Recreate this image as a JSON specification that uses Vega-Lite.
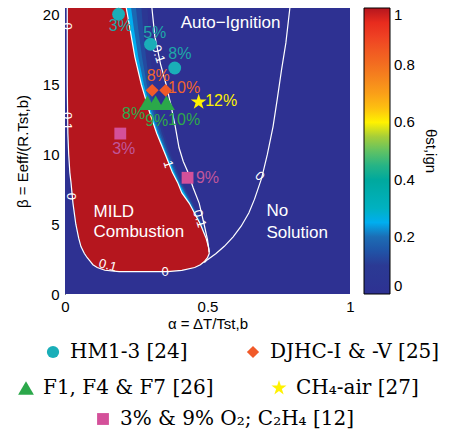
{
  "$schema": "https://vega.github.io/schema/vega-lite/v6.json",
  "width": 285,
  "height": 286,
  "padding": {"left": 15, "top": 5, "right": 5, "bottom": 5},
  "config": {
    "view": {"stroke": null},
    "font": "Liberation Sans",
    "axis": {"labelFont": "Liberation Sans", "labelFontSize": 15, "labelColor": "black", "titleFont": "Liberation Sans", "titleFontSize": 15, "titleFontWeight": "normal", "titleColor": "black", "grid": false},
    "legend": {"padding": 0}
  },
  "datasets": {
    "bg": [{"a": 0, "a2": 1, "b": 0, "b2": 20.5, "theta": 0}],
    "field": [
      {"band": "b1", "theta": 0.07, "b": 2.6, "a": 0.2, "a2": 0.5},
      {"band": "b1", "theta": 0.07, "b": 3.4, "a": 0.2, "a2": 0.507},
      {"band": "b1", "theta": 0.07, "b": 5, "a": 0.2, "a2": 0.485},
      {"band": "b1", "theta": 0.07, "b": 6.5, "a": 0.2, "a2": 0.451},
      {"band": "b1", "theta": 0.07, "b": 8, "a": 0.2, "a2": 0.413},
      {"band": "b1", "theta": 0.07, "b": 10, "a": 0.2, "a2": 0.374},
      {"band": "b1", "theta": 0.07, "b": 11.5, "a": 0.2, "a2": 0.348},
      {"band": "b1", "theta": 0.07, "b": 13, "a": 0.2, "a2": 0.329},
      {"band": "b1", "theta": 0.07, "b": 15, "a": 0.2, "a2": 0.31},
      {"band": "b1", "theta": 0.07, "b": 17, "a": 0.2, "a2": 0.3},
      {"band": "b1", "theta": 0.07, "b": 19, "a": 0.2, "a2": 0.293},
      {"band": "b1", "theta": 0.07, "b": 20.5, "a": 0.2, "a2": 0.29},
      {"band": "b2", "theta": 0.13, "b": 2.6, "a": 0.2, "a2": 0.5},
      {"band": "b2", "theta": 0.13, "b": 3.4, "a": 0.2, "a2": 0.506},
      {"band": "b2", "theta": 0.13, "b": 5, "a": 0.2, "a2": 0.482},
      {"band": "b2", "theta": 0.13, "b": 6.5, "a": 0.2, "a2": 0.447},
      {"band": "b2", "theta": 0.13, "b": 8, "a": 0.2, "a2": 0.408},
      {"band": "b2", "theta": 0.13, "b": 10, "a": 0.2, "a2": 0.367},
      {"band": "b2", "theta": 0.13, "b": 11.5, "a": 0.2, "a2": 0.34},
      {"band": "b2", "theta": 0.13, "b": 13, "a": 0.2, "a2": 0.319},
      {"band": "b2", "theta": 0.13, "b": 15, "a": 0.2, "a2": 0.297},
      {"band": "b2", "theta": 0.13, "b": 17, "a": 0.2, "a2": 0.284},
      {"band": "b2", "theta": 0.13, "b": 19, "a": 0.2, "a2": 0.274},
      {"band": "b2", "theta": 0.13, "b": 20.5, "a": 0.2, "a2": 0.268},
      {"band": "b3", "theta": 0.19, "b": 2.6, "a": 0.2, "a2": 0.5},
      {"band": "b3", "theta": 0.19, "b": 3.4, "a": 0.2, "a2": 0.505},
      {"band": "b3", "theta": 0.19, "b": 5, "a": 0.2, "a2": 0.48},
      {"band": "b3", "theta": 0.19, "b": 6.5, "a": 0.2, "a2": 0.443},
      {"band": "b3", "theta": 0.19, "b": 8, "a": 0.2, "a2": 0.403},
      {"band": "b3", "theta": 0.19, "b": 10, "a": 0.2, "a2": 0.362},
      {"band": "b3", "theta": 0.19, "b": 11.5, "a": 0.2, "a2": 0.334},
      {"band": "b3", "theta": 0.19, "b": 13, "a": 0.2, "a2": 0.311},
      {"band": "b3", "theta": 0.19, "b": 15, "a": 0.2, "a2": 0.287},
      {"band": "b3", "theta": 0.19, "b": 17, "a": 0.2, "a2": 0.27},
      {"band": "b3", "theta": 0.19, "b": 19, "a": 0.2, "a2": 0.257},
      {"band": "b3", "theta": 0.19, "b": 20.5, "a": 0.2, "a2": 0.249},
      {"band": "b4", "theta": 0.25, "b": 2.6, "a": 0.2, "a2": 0.5},
      {"band": "b4", "theta": 0.25, "b": 3.4, "a": 0.2, "a2": 0.504},
      {"band": "b4", "theta": 0.25, "b": 5, "a": 0.2, "a2": 0.477},
      {"band": "b4", "theta": 0.25, "b": 6.5, "a": 0.2, "a2": 0.439},
      {"band": "b4", "theta": 0.25, "b": 8, "a": 0.2, "a2": 0.399},
      {"band": "b4", "theta": 0.25, "b": 10, "a": 0.2, "a2": 0.357},
      {"band": "b4", "theta": 0.25, "b": 11.5, "a": 0.2, "a2": 0.328},
      {"band": "b4", "theta": 0.25, "b": 13, "a": 0.2, "a2": 0.304},
      {"band": "b4", "theta": 0.25, "b": 15, "a": 0.2, "a2": 0.277},
      {"band": "b4", "theta": 0.25, "b": 17, "a": 0.2, "a2": 0.257},
      {"band": "b4", "theta": 0.25, "b": 19, "a": 0.2, "a2": 0.242},
      {"band": "b4", "theta": 0.25, "b": 20.5, "a": 0.2, "a2": 0.232},
      {"band": "b5", "theta": 1, "b": 1.62, "a": 0.19, "a2": 0.36},
      {"band": "b5", "theta": 1, "b": 1.7, "a": 0.14, "a2": 0.41},
      {"band": "b5", "theta": 1, "b": 1.9, "a": 0.115, "a2": 0.455},
      {"band": "b5", "theta": 1, "b": 2.1, "a": 0.1, "a2": 0.475},
      {"band": "b5", "theta": 1, "b": 2.35, "a": 0.09, "a2": 0.49},
      {"band": "b5", "theta": 1, "b": 2.6, "a": 0.08, "a2": 0.5},
      {"band": "b5", "theta": 1, "b": 2.9, "a": 0.07, "a2": 0.506},
      {"band": "b5", "theta": 1, "b": 3.2, "a": 0.063, "a2": 0.505},
      {"band": "b5", "theta": 1, "b": 3.4, "a": 0.058, "a2": 0.503},
      {"band": "b5", "theta": 1, "b": 4, "a": 0.05, "a2": 0.495},
      {"band": "b5", "theta": 1, "b": 5, "a": 0.04, "a2": 0.475},
      {"band": "b5", "theta": 1, "b": 6.5, "a": 0.03, "a2": 0.436},
      {"band": "b5", "theta": 1, "b": 7.25, "a": 0.026, "a2": 0.41},
      {"band": "b5", "theta": 1, "b": 8, "a": 0.022, "a2": 0.395},
      {"band": "b5", "theta": 1, "b": 8.7, "a": 0.018, "a2": 0.377},
      {"band": "b5", "theta": 1, "b": 10, "a": 0.014, "a2": 0.352},
      {"band": "b5", "theta": 1, "b": 11.5, "a": 0.012, "a2": 0.322},
      {"band": "b5", "theta": 1, "b": 13, "a": 0.011, "a2": 0.297},
      {"band": "b5", "theta": 1, "b": 15, "a": 0.01, "a2": 0.268},
      {"band": "b5", "theta": 1, "b": 17, "a": 0.01, "a2": 0.245},
      {"band": "b5", "theta": 1, "b": 19, "a": 0.01, "a2": 0.228},
      {"band": "b5", "theta": 1, "b": 20.5, "a": 0.01, "a2": 0.215}
    ],
    "contours": [
      {"line": "edge", "ord": 1, "a": 0.008, "b": 20.5},
      {"line": "edge", "ord": 2, "a": 0.008, "b": 15},
      {"line": "edge", "ord": 3, "a": 0.01, "b": 11.5},
      {"line": "edge", "ord": 4, "a": 0.013, "b": 10},
      {"line": "edge", "ord": 5, "a": 0.017, "b": 8.7},
      {"line": "edge", "ord": 6, "a": 0.021, "b": 8},
      {"line": "edge", "ord": 7, "a": 0.028, "b": 6.5},
      {"line": "edge", "ord": 8, "a": 0.038, "b": 5},
      {"line": "edge", "ord": 9, "a": 0.048, "b": 4},
      {"line": "edge", "ord": 10, "a": 0.056, "b": 3.4},
      {"line": "edge", "ord": 11, "a": 0.068, "b": 2.9},
      {"line": "edge", "ord": 12, "a": 0.078, "b": 2.6},
      {"line": "edge", "ord": 13, "a": 0.088, "b": 2.35},
      {"line": "edge", "ord": 14, "a": 0.098, "b": 2.1},
      {"line": "edge", "ord": 15, "a": 0.113, "b": 1.9},
      {"line": "edge", "ord": 16, "a": 0.14, "b": 1.7},
      {"line": "edge", "ord": 17, "a": 0.19, "b": 1.6},
      {"line": "edge", "ord": 18, "a": 0.36, "b": 1.6},
      {"line": "edge", "ord": 19, "a": 0.41, "b": 1.7},
      {"line": "edge", "ord": 20, "a": 0.455, "b": 1.9},
      {"line": "edge", "ord": 21, "a": 0.475, "b": 2.1},
      {"line": "edge", "ord": 22, "a": 0.49, "b": 2.35},
      {"line": "edge", "ord": 23, "a": 0.5, "b": 2.6},
      {"line": "edge", "ord": 24, "a": 0.506, "b": 2.9},
      {"line": "edge", "ord": 25, "a": 0.505, "b": 3.2},
      {"line": "edge", "ord": 26, "a": 0.503, "b": 3.4},
      {"line": "edge", "ord": 27, "a": 0.495, "b": 4},
      {"line": "edge", "ord": 28, "a": 0.475, "b": 5},
      {"line": "edge", "ord": 29, "a": 0.436, "b": 6.5},
      {"line": "edge", "ord": 30, "a": 0.41, "b": 7.25},
      {"line": "edge", "ord": 31, "a": 0.395, "b": 8},
      {"line": "edge", "ord": 32, "a": 0.377, "b": 8.7},
      {"line": "edge", "ord": 33, "a": 0.352, "b": 10},
      {"line": "edge", "ord": 34, "a": 0.322, "b": 11.5},
      {"line": "edge", "ord": 35, "a": 0.297, "b": 13},
      {"line": "edge", "ord": 36, "a": 0.268, "b": 15},
      {"line": "edge", "ord": 37, "a": 0.245, "b": 17},
      {"line": "edge", "ord": 38, "a": 0.228, "b": 19},
      {"line": "edge", "ord": 39, "a": 0.215, "b": 20.5},
      {"line": "c01", "ord": 1, "a": 0.305, "b": 20.5},
      {"line": "c01", "ord": 2, "a": 0.315, "b": 18.5},
      {"line": "c01", "ord": 3, "a": 0.335, "b": 16.5},
      {"line": "c01", "ord": 4, "a": 0.355, "b": 15},
      {"line": "c01", "ord": 5, "a": 0.372, "b": 13.5},
      {"line": "c01", "ord": 6, "a": 0.387, "b": 12},
      {"line": "c01", "ord": 7, "a": 0.4, "b": 10.5},
      {"line": "c01", "ord": 8, "a": 0.415, "b": 9.5},
      {"line": "c01", "ord": 9, "a": 0.43, "b": 8.8},
      {"line": "c01", "ord": 10, "a": 0.45, "b": 7.6},
      {"line": "c01", "ord": 11, "a": 0.471, "b": 6.5},
      {"line": "c01", "ord": 12, "a": 0.488, "b": 5},
      {"line": "c01", "ord": 13, "a": 0.5, "b": 3.9},
      {"line": "c01", "ord": 14, "a": 0.506, "b": 3.0},
      {"line": "c0", "ord": 1, "a": 0.789, "b": 20.5},
      {"line": "c0", "ord": 2, "a": 0.775, "b": 18},
      {"line": "c0", "ord": 3, "a": 0.76, "b": 16.1},
      {"line": "c0", "ord": 4, "a": 0.745, "b": 14},
      {"line": "c0", "ord": 5, "a": 0.73, "b": 12},
      {"line": "c0", "ord": 6, "a": 0.71, "b": 10},
      {"line": "c0", "ord": 7, "a": 0.69, "b": 8.3},
      {"line": "c0", "ord": 8, "a": 0.665, "b": 6.8},
      {"line": "c0", "ord": 9, "a": 0.645, "b": 5.8},
      {"line": "c0", "ord": 10, "a": 0.618, "b": 4.86},
      {"line": "c0", "ord": 11, "a": 0.59, "b": 4.1},
      {"line": "c0", "ord": 12, "a": 0.559, "b": 3.42},
      {"line": "c0", "ord": 13, "a": 0.53, "b": 2.9},
      {"line": "c0", "ord": 14, "a": 0.5, "b": 2.46},
      {"line": "c0", "ord": 15, "a": 0.489, "b": 2.25}
    ],
    "lab90": [
      {"t": "0", "a": 0.007, "b": 19.2},
      {"t": "0.1", "a": 0.007, "b": 12.4},
      {"t": "0", "a": 0.02, "b": 7.0}
    ],
    "lab0": [{"t": "0", "a": 0.351, "b": 1.58}],
    "lab15": [{"t": "0.1", "a": 0.15, "b": 2.05}],
    "lab73": [
      {"t": "1", "a": 0.362, "b": 9.3},
      {"t": "0.1", "a": 0.327, "b": 17.2},
      {"t": "0.1", "a": 0.472, "b": 5.4}
    ],
    "lab45": [{"t": "0", "a": 0.683, "b": 8.45}],
    "regions": [
      {"t": "Auto−Ignition", "a": 0.406, "b": 19.45},
      {"t": "MILD", "a": 0.1, "b": 5.85},
      {"t": "Combustion", "a": 0.1, "b": 4.41},
      {"t": "No", "a": 0.707, "b": 5.96},
      {"t": "Solution", "a": 0.707, "b": 4.38}
    ],
    "mA": [
      {"g": "HM1-3 [24]", "a": 0.188, "b": 20.05},
      {"g": "HM1-3 [24]", "a": 0.3, "b": 17.9},
      {"g": "HM1-3 [24]", "a": 0.385, "b": 16.2},
      {"g": "DJHC-I & -V [25]", "a": 0.306, "b": 14.6},
      {"g": "DJHC-I & -V [25]", "a": 0.353, "b": 14.6}
    ],
    "mB": [
      {"g": "F1, F4 & F7 [26]", "a": 0.289, "b": 13.7},
      {"g": "F1, F4 & F7 [26]", "a": 0.318, "b": 13.7},
      {"g": "F1, F4 & F7 [26]", "a": 0.356, "b": 13.7},
      {"g": "CH₄-air [27]", "a": 0.469, "b": 13.76}
    ],
    "mC": [
      {"g": "3% & 9% O₂; C₂H₄ [12]", "a": 0.194, "b": 11.5},
      {"g": "3% & 9% O₂; C₂H₄ [12]", "a": 0.43, "b": 8.33}
    ],
    "mlabels": [
      {"g": "c", "t": "3%", "a": 0.194, "b": 19.2},
      {"g": "c", "t": "5%", "a": 0.315, "b": 18.7},
      {"g": "c", "t": "8%", "a": 0.403, "b": 17.2},
      {"g": "o", "t": "8%", "a": 0.327, "b": 15.6},
      {"g": "o", "t": "10%", "a": 0.418, "b": 14.8},
      {"g": "gr", "t": "8%", "a": 0.241, "b": 12.9},
      {"g": "gr", "t": "9%", "a": 0.322, "b": 12.4},
      {"g": "gr", "t": "10%", "a": 0.418, "b": 12.5},
      {"g": "y", "t": "12%", "a": 0.548, "b": 13.8},
      {"g": "p", "t": "3%", "a": 0.206, "b": 10.4},
      {"g": "p", "t": "9%", "a": 0.5, "b": 8.33}
    ]
  },
  "encoding": {
    "x": {"field": "a", "type": "quantitative", "scale": {"domain": [0, 1], "nice": false, "zero": false},
      "axis": {"title": "α = ΔT/Tst,b", "values": [0, 0.5, 1], "format": "~g", "domain": false, "ticks": false, "tickSize": 0, "labelPadding": 5, "titlePadding": 2, "labelFlush": false}},
    "y": {"field": "b", "type": "quantitative", "scale": {"domain": [0, 20.5], "nice": false, "zero": false},
      "axis": {"title": "β = Eeff/(R.Tst,b)", "values": [0, 5, 10, 15, 20], "format": "~g", "ticks": false, "tickSize": 0, "domainColor": "black", "labelPadding": 6, "titlePadding": 12, "labelFlush": false}}
  },
  "layer": [
    {
      "data": {"name": "bg"},
      "mark": {"type": "rect"},
      "encoding": {
        "x2": {"field": "a2"},
        "y2": {"field": "b2"},
        "color": {"field": "theta", "type": "quantitative",
          "scale": {"type": "linear", "domain": [0, 0.1, 0.2, 0.25, 0.3, 0.4, 0.47, 0.55, 0.6, 0.65, 0.72, 0.82, 0.92, 0.97, 1],
            "range": ["#2e3192", "#2b3a94", "#1c6db5", "#00aeef", "#00b1c1", "#00a99d", "#3cb878", "#a6ce39", "#fff200", "#fdc010", "#f7941d", "#f26522", "#ee3524", "#e2231a", "#b5161e"]},
          "legend": {"orient": "none", "legendX": 299, "legendY": 0, "direction": "vertical", "gradientLength": 286, "gradientThickness": 26, "values": [0, 0.2, 0.4, 0.6, 0.8, 1], "format": "~g", "title": "θst,ign", "titleOrient": "right", "titleAngle": 270, "titleAnchor": "middle", "titleFontSize": 15, "titleFontWeight": "normal", "titleFont": "Liberation Sans", "titleColor": "black", "labelFontSize": 15, "labelFont": "Liberation Sans", "labelColor": "black", "gradientStrokeColor": "black", "gradientStrokeWidth": 1, "labelOffset": 4, "titlePadding": 8}}
      }
    },
    {
      "data": {"name": "field"},
      "mark": {"type": "area", "orient": "horizontal"},
      "encoding": {
        "x2": {"field": "a2"},
        "detail": {"field": "band", "type": "nominal"},
        "color": {"field": "theta", "type": "quantitative",
          "scale": {"type": "linear", "domain": [0, 0.1, 0.2, 0.25, 0.3, 0.4, 0.47, 0.55, 0.6, 0.65, 0.72, 0.82, 0.92, 0.97, 1],
            "range": ["#2e3192", "#2b3a94", "#1c6db5", "#00aeef", "#00b1c1", "#00a99d", "#3cb878", "#a6ce39", "#fff200", "#fdc010", "#f7941d", "#f26522", "#ee3524", "#e2231a", "#b5161e"]},
          "legend": {"orient": "none", "legendX": 299, "legendY": 0, "direction": "vertical", "gradientLength": 286, "gradientThickness": 26, "values": [0, 0.2, 0.4, 0.6, 0.8, 1], "format": "~g", "title": "θst,ign", "titleOrient": "right", "titleAngle": 270, "titleAnchor": "middle", "titleFontSize": 15, "titleFontWeight": "normal", "titleFont": "Liberation Sans", "titleColor": "black", "labelFontSize": 15, "labelFont": "Liberation Sans", "labelColor": "black", "gradientStrokeColor": "black", "gradientStrokeWidth": 1, "labelOffset": 4, "titlePadding": 8}}
      }
    },
    {
      "data": {"name": "contours"},
      "mark": {"type": "line", "color": "white", "strokeWidth": 1.2},
      "encoding": {
        "detail": {"field": "line", "type": "nominal"},
        "order": {"field": "ord", "type": "quantitative"}
      }
    },
    {
      "data": {"name": "lab90"},
      "mark": {"type": "text", "color": "white", "fontSize": 13, "angle": 90, "align": "center", "baseline": "middle"},
      "encoding": {"text": {"field": "t", "type": "nominal"}}
    },
    {
      "data": {"name": "lab0"},
      "mark": {"type": "text", "color": "white", "fontSize": 13, "angle": 0, "align": "center", "baseline": "middle"},
      "encoding": {"text": {"field": "t", "type": "nominal"}}
    },
    {
      "data": {"name": "lab15"},
      "mark": {"type": "text", "color": "white", "fontSize": 13, "angle": 15, "align": "center", "baseline": "middle"},
      "encoding": {"text": {"field": "t", "type": "nominal"}}
    },
    {
      "data": {"name": "lab73"},
      "mark": {"type": "text", "color": "white", "fontSize": 13, "angle": 73, "align": "center", "baseline": "middle"},
      "encoding": {"text": {"field": "t", "type": "nominal"}}
    },
    {
      "data": {"name": "lab45"},
      "mark": {"type": "text", "color": "white", "fontSize": 13, "angle": 45, "align": "center", "baseline": "middle"},
      "encoding": {"text": {"field": "t", "type": "nominal"}}
    },
    {
      "data": {"name": "regions"},
      "mark": {"type": "text", "color": "white", "fontSize": 17, "align": "left", "baseline": "middle"},
      "encoding": {"text": {"field": "t", "type": "nominal"}}
    },
    {
      "data": {"name": "mB"},
      "mark": {"type": "point", "filled": true, "opacity": 1, "size": 280, "strokeWidth": 0},
      "encoding": {
        "fill": {"field": "g", "type": "nominal", "scale": {"domain": ["F1, F4 & F7 [26]", "CH₄-air [27]"], "range": ["#2ba84a", "#fff200"]},
          "legend": {"orient": "none", "legendX": -49, "legendY": 370, "direction": "horizontal", "columns": 2, "title": null, "labelFont": "DejaVu Serif", "labelFontSize": 20, "labelColor": "black", "symbolSize": 250, "symbolStrokeWidth": 0, "symbolOpacity": 1, "columnPadding": 55, "labelOffset": 7, "labelLimit": 400}},
        "shape": {"field": "g", "type": "nominal", "scale": {"domain": ["F1, F4 & F7 [26]", "CH₄-air [27]"], "range": ["triangle-up", "M0,-1L0.2245,-0.309L0.951,-0.309L0.3633,0.118L0.5878,0.809L0,0.382L-0.5878,0.809L-0.3633,0.118L-0.951,-0.309L-0.2245,-0.309Z"]},
          "legend": {"orient": "none", "legendX": -49, "legendY": 370, "direction": "horizontal", "columns": 2, "title": null, "labelFont": "DejaVu Serif", "labelFontSize": 20, "labelColor": "black", "symbolSize": 250, "symbolStrokeWidth": 0, "symbolOpacity": 1, "columnPadding": 55, "labelOffset": 7, "labelLimit": 400}}
      }
    },
    {
      "data": {"name": "mC"},
      "mark": {"type": "point", "filled": true, "opacity": 1, "size": 140, "strokeWidth": 0},
      "encoding": {
        "fill": {"field": "g", "type": "nominal", "scale": {"domain": ["3% & 9% O₂; C₂H₄ [12]"], "range": ["#d4509a"]},
          "legend": {"orient": "none", "legendX": 28, "legendY": 401, "direction": "horizontal", "columns": 2, "title": null, "labelFont": "DejaVu Serif", "labelFontSize": 20, "labelColor": "black", "symbolSize": 140, "symbolStrokeWidth": 0, "symbolOpacity": 1, "columnPadding": 55, "labelOffset": 7, "labelLimit": 400}},
        "shape": {"field": "g", "type": "nominal", "scale": {"domain": ["3% & 9% O₂; C₂H₄ [12]"], "range": ["square"]},
          "legend": {"orient": "none", "legendX": 28, "legendY": 401, "direction": "horizontal", "columns": 2, "title": null, "labelFont": "DejaVu Serif", "labelFontSize": 20, "labelColor": "black", "symbolSize": 140, "symbolStrokeWidth": 0, "symbolOpacity": 1, "columnPadding": 55, "labelOffset": 7, "labelLimit": 400}}
      }
    },
    {
      "data": {"name": "mA"},
      "mark": {"type": "point", "filled": true, "opacity": 1, "size": 165, "strokeWidth": 0},
      "encoding": {
        "fill": {"field": "g", "type": "nominal", "scale": {"domain": ["HM1-3 [24]", "DJHC-I & -V [25]"], "range": ["#1aaeb8", "#f15a29"]},
          "legend": {"orient": "none", "legendX": -22, "legendY": 334, "direction": "horizontal", "columns": 2, "title": null, "labelFont": "DejaVu Serif", "labelFontSize": 20, "labelColor": "black", "symbolSize": 150, "symbolStrokeWidth": 0, "symbolOpacity": 1, "columnPadding": 55, "labelOffset": 7, "labelLimit": 400}},
        "shape": {"field": "g", "type": "nominal", "scale": {"domain": ["HM1-3 [24]", "DJHC-I & -V [25]"], "range": ["circle", "diamond"]},
          "legend": {"orient": "none", "legendX": -22, "legendY": 334, "direction": "horizontal", "columns": 2, "title": null, "labelFont": "DejaVu Serif", "labelFontSize": 20, "labelColor": "black", "symbolSize": 150, "symbolStrokeWidth": 0, "symbolOpacity": 1, "columnPadding": 55, "labelOffset": 7, "labelLimit": 400}}
      }
    },
    {
      "data": {"name": "mlabels"},
      "mark": {"type": "text", "fontSize": 16, "align": "center", "baseline": "middle"},
      "encoding": {
        "text": {"field": "t", "type": "nominal"},
        "fill": {"field": "g", "type": "nominal", "scale": {"domain": ["c", "o", "gr", "y", "p"], "range": ["#1ea8a8", "#f0642e", "#2eaa4a", "#fff200", "#c0579b"]}, "legend": null}
      }
    }
  ],
  "resolve": {"scale": {"fill": "independent", "shape": "independent"}}
}
